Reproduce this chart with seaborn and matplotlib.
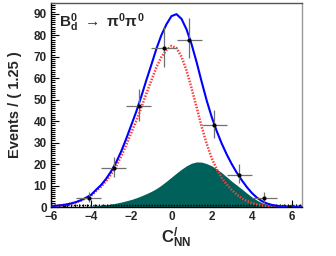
import numpy as np
import pandas as pd
import matplotlib
matplotlib.use("Agg")
import matplotlib.pyplot as plt
import seaborn as sns
from matplotlib.ticker import MultipleLocator

# binned data (bin width 1.25)
bin_centers = [-5.375, -4.125, -2.875, -1.625, -0.375, 0.875, 2.125, 3.375, 4.625, 5.875]
events = [0, 4, 18, 47, 74, 78, 38, 15, 4, 0]
err_lo = [0.0, 1.9, 4.2, 6.8, 8.6, 8.8, 6.1, 3.8, 1.9, 0.0]
err_hi = [1.15, 3.2, 5.3, 7.9, 9.6, 9.9, 7.2, 4.9, 3.2, 1.15]
bin_half = 0.625

# fit curves sampled every 0.25
curve_x = [-6.0, -5.75, -5.5, -5.25, -5.0, -4.75, -4.5, -4.25, -4.0, -3.75, -3.5, -3.25, -3.0,
           -2.75, -2.5, -2.25, -2.0, -1.75, -1.5, -1.25, -1.0, -0.75, -0.5, -0.25, 0.0,
           0.25, 0.5, 0.75, 1.0, 1.25, 1.5, 1.75, 2.0, 2.25, 2.5, 2.75, 3.0,
           3.25, 3.5, 3.75, 4.0, 4.25, 4.5, 4.75, 5.0, 5.25, 5.5, 5.75, 6.0, 6.25, 6.5]
continuum = [0.35, 0.53, 0.77, 1.1, 1.58, 2.2, 3.05, 4.1, 5.28, 7.48, 9.48, 12.15, 15.3,
             19.1, 23.7, 29.0, 34.7, 40.2, 46.4, 52.9, 59.0, 65.1, 69.9, 73.1, 75.0,
             74.0, 70.0, 63.5, 55.4, 46.5, 37.5, 29.5, 22.8, 17.7, 13.6, 10.5, 8.0,
             5.8, 4.1, 2.8, 1.85, 1.2, 0.75, 0.45, 0.26, 0.15, 0.08, 0.04, 0.02, 0.01, 0.0]
signal = [0.01, 0.02, 0.03, 0.05, 0.07, 0.1, 0.15, 0.25, 0.42, 0.58, 0.8, 1.05, 1.4,
          1.8, 2.3, 2.9, 3.5, 4.3, 5.2, 6.2, 7.3, 8.6, 10.2, 12.0, 13.9,
          15.8, 17.6, 19.2, 20.4, 21.0, 20.9, 20.2, 19.2, 17.7, 16.0, 14.0, 12.0,
          10.2, 8.4, 6.5, 4.7, 3.2, 2.0, 1.2, 0.7, 0.4, 0.22, 0.12, 0.06, 0.03, 0.01]
total = [0.36, 0.55, 0.8, 1.15, 1.65, 2.3, 3.2, 4.35, 5.7, 8.06, 10.28, 13.2, 16.7,
         20.9, 26.0, 31.9, 38.2, 44.5, 51.6, 59.1, 66.3, 73.7, 80.1, 85.1, 88.9,
         89.8, 87.6, 82.7, 75.8, 67.5, 58.4, 49.7, 42.0, 35.4, 29.6, 24.5, 20.0,
         16.0, 12.5, 9.3, 6.55, 4.4, 2.75, 1.65, 0.96, 0.55, 0.3, 0.16, 0.08, 0.04, 0.01]
other_x = [-6.0, 6.5]
other_y = [1.0, 1.0]

curves = pd.DataFrame({"x": curve_x, "continuum": continuum, "signal": signal, "total": total})

sns.set_style("ticks")
plt.rcParams['font.family'] = ['Liberation Sans', 'DejaVu Sans']
plt.rcParams['font.weight'] = 'bold'
plt.rcParams['mathtext.fontset'] = 'custom'
plt.rcParams['mathtext.rm'] = 'Liberation Sans:bold'
plt.rcParams['mathtext.bf'] = 'Liberation Sans:bold'
plt.rcParams['mathtext.it'] = 'Liberation Sans:bold'

fig = plt.figure(figsize=(3.36, 2.56), dpi=100)
ax = fig.add_axes([51 / 336, 49 / 256, 251 / 336, 204 / 256])

ax.fill_between(curves["x"], 0, curves["signal"], color="#00605a", lw=0, zorder=1)
ax.plot(other_x, other_y, color="black", lw=1.0, ls=(0, (1, 1)), zorder=2)
sns.lineplot(data=curves, x="x", y="continuum", ax=ax, color="#ff3b3b",
             lw=1.8, ls=(0, (0.6, 0.6)), zorder=3)
sns.lineplot(data=curves, x="x", y="total", ax=ax, color="#0000ff", lw=1.5, zorder=4)

ax.errorbar(bin_centers, events, xerr=bin_half, yerr=[err_lo, err_hi], fmt="none",
            ecolor="#707070", elinewidth=0.9, zorder=5)
sns.scatterplot(x=bin_centers, y=events, ax=ax, color="black", s=9, linewidth=0, zorder=6)

ax.set_xlim(-6, 6.5)
ax.set_ylim(0, 95)
ax.xaxis.set_major_locator(MultipleLocator(2))
ax.xaxis.set_minor_locator(MultipleLocator(0.2))
ax.yaxis.set_major_locator(MultipleLocator(10))
ax.yaxis.set_minor_locator(MultipleLocator(1))
ax.tick_params(which="both", direction="in", top=False, right=False, labelsize=8.5,
               width=0.8, color="black")
ax.tick_params(axis="x", which="major", length=5, pad=3)
ax.tick_params(axis="x", which="minor", length=2.5)
ax.tick_params(axis="y", which="major", length=6, pad=3)
ax.tick_params(axis="y", which="minor", length=3)
for lab in ax.get_xticklabels() + ax.get_yticklabels():
    lab.set_fontweight("bold")

for side in ["left", "bottom"]:
    ax.spines[side].set_color("black")
    ax.spines[side].set_linewidth(1.0)
ax.spines["top"].set_color("#555555")
ax.spines["right"].set_color("#999999")
ax.spines["top"].set_linewidth(1.0)
ax.spines["right"].set_linewidth(1.0)

ax.set_ylabel("Events / ( 1.25 )", fontsize=10.5, fontweight="bold", va="center")
ax.yaxis.set_label_coords(-0.143, 0.5)
ax.set_xlabel(r"$\mathbf{C_{NN}^{/}}$", fontsize=12, va="center")
ax.xaxis.set_label_coords(0.5, -0.15)

ax.text(0.03, 0.96, r"$\mathbf{B_d^0}$ $\rightarrow$ $\pi^0\pi^0$", transform=ax.transAxes,
        fontsize=11, ha="left", va="top")

fig.savefig("out.png", dpi=100)
